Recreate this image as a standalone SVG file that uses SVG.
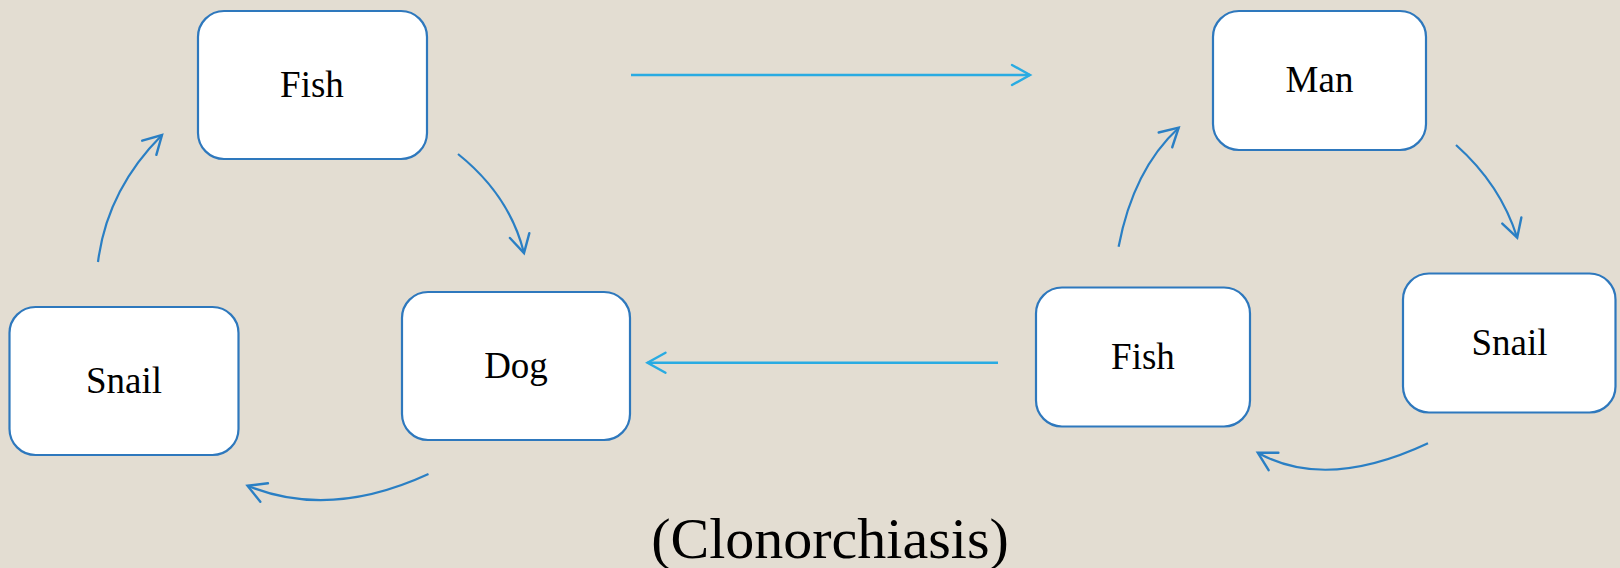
<svg xmlns="http://www.w3.org/2000/svg" width="1620" height="568" viewBox="0 0 1620 568">
  <style>
    .box { fill: #ffffff; stroke: #2e78bd; stroke-width: 2.2; }
    .lbl { font-family: "Liberation Serif", "Times New Roman", serif; font-size: 37px; fill: #000000; text-anchor: middle; }
    .title { font-family: "Liberation Serif", "Times New Roman", serif; font-size: 58px; fill: #000000; text-anchor: middle; }
    .cycle { fill: none; stroke: #2a7fc4; stroke-width: 2.2; }
    .link { fill: none; stroke: #29abe2; stroke-width: 2.4; }
  </style>
  <defs>
    <marker id="headCycle" markerUnits="userSpaceOnUse" viewBox="-21 -12 24 24" refX="0" refY="0" markerWidth="24" markerHeight="24" orient="auto">
      <path d="M -18 -10 L 0 0 L -18 10" fill="none" stroke="#2a7fc4" stroke-width="2.4" stroke-linecap="round" stroke-linejoin="miter"/>
    </marker>
    <marker id="headLink" markerUnits="userSpaceOnUse" viewBox="-21 -12 24 24" refX="0" refY="0" markerWidth="24" markerHeight="24" orient="auto">
      <path d="M -18 -10 L 0 0 L -18 10" fill="none" stroke="#29abe2" stroke-width="2.4" stroke-linecap="round" stroke-linejoin="miter"/>
    </marker>
  </defs>

  <rect x="0" y="0" width="1620" height="568" fill="#e3ddd2"/>

  <!-- left cycle: dog host -->
  <g id="fish-left">
    <rect class="box" x="198" y="11" width="229" height="148" rx="26" ry="26"/>
    <text class="lbl" x="312" y="97">Fish</text>
  </g>
  <g id="snail-left">
    <rect class="box" x="9.5" y="307" width="229" height="148" rx="26" ry="26"/>
    <text class="lbl" x="124" y="393">Snail</text>
  </g>
  <g id="dog">
    <rect class="box" x="402" y="292" width="228" height="148" rx="26" ry="26"/>
    <text class="lbl" x="516" y="378">Dog</text>
  </g>

  <!-- right cycle: human host -->
  <g id="man">
    <rect class="box" x="1213" y="11" width="213" height="139" rx="26" ry="26"/>
    <text class="lbl" x="1319.5" y="92">Man</text>
  </g>
  <g id="snail-right">
    <rect class="box" x="1403" y="273.5" width="212.5" height="139" rx="26" ry="26"/>
    <text class="lbl" x="1509.5" y="355">Snail</text>
  </g>
  <g id="fish-right">
    <rect class="box" x="1036" y="287.5" width="214" height="139" rx="26" ry="26"/>
    <text class="lbl" x="1143" y="368.5">Fish</text>
  </g>

  <g id="title">
    <text class="title" x="830" y="558">(Clonorchiasis)</text>
  </g>

  <g id="connectors">
    <!-- left cycle -->
    <path class="cycle" d="M 98 262 Q 107 190 162 135" marker-end="url(#headCycle)"/>
    <path class="cycle" d="M 458 154 Q 509.6 195.3 524 253" marker-end="url(#headCycle)"/>
    <path class="cycle" d="M 428.5 474 Q 329.6 519.5 247.5 485.7" marker-end="url(#headCycle)"/>
    <!-- right cycle -->
    <path class="cycle" d="M 1118.6 246.7 Q 1133.2 169.6 1178.7 127.7" marker-end="url(#headCycle)"/>
    <path class="cycle" d="M 1456 145 Q 1500.6 184.7 1517.2 237.7" marker-end="url(#headCycle)"/>
    <path class="cycle" d="M 1428 443.3 Q 1326.2 491 1257.8 452.7" marker-end="url(#headCycle)"/>
    <!-- between cycles -->
    <path class="link" d="M 631 75 L 1030 75" marker-end="url(#headLink)"/>
    <path class="link" d="M 998 362.7 L 647.5 362.7" marker-end="url(#headLink)"/>
  </g>
</svg>
